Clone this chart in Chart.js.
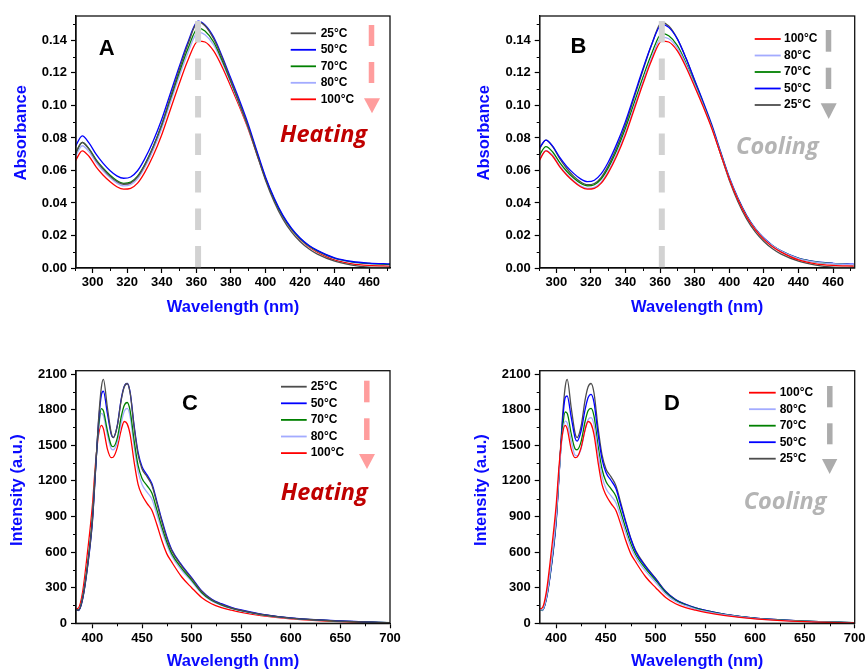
<!DOCTYPE html>
<html>
<head>
<meta charset="utf-8">
<script src="https://cdn.jsdelivr.net/npm/chart.js@4.4.0/dist/chart.umd.min.js"></script>
<style>
  html, body { margin: 0; padding: 0; background: #fff; overflow: hidden; }
  #wrap { position: relative; width: 866px; height: 670px; overflow: hidden; }
  canvas { position: absolute; }
</style>
</head>
<body>
<div id="wrap">
  <canvas id="chartA" width="433" height="335" style="left:0;top:0"></canvas>
  <canvas id="chartB" width="433" height="335" style="left:433px;top:0"></canvas>
  <canvas id="chartC" width="433" height="345" style="left:0;top:335px"></canvas>
  <canvas id="chartD" width="433" height="345" style="left:433px;top:335px"></canvas>
</div>
<script>
// UV-Vis absorbance, wavelength in nm
const uvWave = [290, 294, 298, 302, 306, 310, 314, 318, 322, 326, 330, 335, 340, 345, 350, 355, 361, 365, 370, 375, 380, 385, 390, 395, 400, 405, 410, 415, 420, 425, 430, 440, 450, 460, 472]

// heating (A)
const absHeat25 = [0.0705, 0.0772, 0.0730, 0.0662, 0.0610, 0.0565, 0.0532, 0.0515, 0.0522, 0.0560, 0.0630, 0.0745, 0.0885, 0.1050, 0.1215, 0.1372, 0.1512, 0.1490, 0.1410, 0.1290, 0.1150, 0.1012, 0.0865, 0.0700, 0.0540, 0.0408, 0.0302, 0.0222, 0.0163, 0.0118, 0.0085, 0.0042, 0.0018, 0.0006, 0.0003]
const absHeat50 = [0.0746, 0.0813, 0.0768, 0.0700, 0.0645, 0.0600, 0.0567, 0.0552, 0.0560, 0.0598, 0.0668, 0.0780, 0.0915, 0.1075, 0.1235, 0.1385, 0.1518, 0.1495, 0.1420, 0.1300, 0.1165, 0.1030, 0.0885, 0.0720, 0.0560, 0.0430, 0.0325, 0.0245, 0.0185, 0.0140, 0.0108, 0.0062, 0.0040, 0.0030, 0.0025]
const absHeat70 = [0.0700, 0.0773, 0.0733, 0.0667, 0.0615, 0.0572, 0.0538, 0.0521, 0.0528, 0.0565, 0.0633, 0.0745, 0.0880, 0.1040, 0.1198, 0.1345, 0.1476, 0.1458, 0.1390, 0.1275, 0.1145, 0.1010, 0.0870, 0.0710, 0.0552, 0.0425, 0.0320, 0.0241, 0.0181, 0.0137, 0.0105, 0.0060, 0.0038, 0.0028, 0.0022]
const absHeat80 = [0.0685, 0.0752, 0.0714, 0.0650, 0.0598, 0.0556, 0.0522, 0.0505, 0.0512, 0.0548, 0.0615, 0.0725, 0.0860, 0.1018, 0.1175, 0.1320, 0.1450, 0.1435, 0.1372, 0.1262, 0.1135, 0.1002, 0.0863, 0.0705, 0.0550, 0.0423, 0.0318, 0.0240, 0.0180, 0.0136, 0.0104, 0.0058, 0.0036, 0.0026, 0.0020]
const abs100 = [0.0658, 0.0721, 0.0686, 0.0622, 0.0572, 0.0532, 0.0500, 0.0485, 0.0490, 0.0522, 0.0585, 0.0690, 0.0820, 0.0975, 0.1130, 0.1275, 0.1396, 0.1390, 0.1335, 0.1235, 0.1115, 0.0990, 0.0855, 0.0700, 0.0548, 0.0420, 0.0315, 0.0236, 0.0176, 0.0131, 0.0098, 0.0050, 0.0026, 0.0016, 0.0012]

// cooling (B)
const absCool80 = [0.0665, 0.0722, 0.0692, 0.0628, 0.0577, 0.0537, 0.0505, 0.0490, 0.0496, 0.0530, 0.0595, 0.0703, 0.0835, 0.0990, 0.1145, 0.1290, 0.1420, 0.1410, 0.1352, 0.1250, 0.1127, 0.0998, 0.0860, 0.0704, 0.0550, 0.0423, 0.0318, 0.0240, 0.0180, 0.0136, 0.0104, 0.0058, 0.0036, 0.0026, 0.0020]
const absCool70 = [0.0690, 0.0746, 0.0712, 0.0648, 0.0595, 0.0553, 0.0521, 0.0505, 0.0512, 0.0548, 0.0615, 0.0726, 0.0860, 0.1015, 0.1170, 0.1315, 0.1442, 0.1428, 0.1368, 0.1260, 0.1135, 0.1003, 0.0865, 0.0707, 0.0551, 0.0424, 0.0319, 0.0240, 0.0180, 0.0136, 0.0104, 0.0059, 0.0037, 0.0027, 0.0021]
const absCool50 = [0.0735, 0.0787, 0.0748, 0.0680, 0.0625, 0.0582, 0.0548, 0.0531, 0.0540, 0.0580, 0.0650, 0.0765, 0.0902, 0.1062, 0.1222, 0.1372, 0.1499, 0.1480, 0.1408, 0.1290, 0.1155, 0.1020, 0.0878, 0.0715, 0.0558, 0.0430, 0.0324, 0.0244, 0.0184, 0.0139, 0.0106, 0.0061, 0.0039, 0.0029, 0.0024]
const absCool25 = [0.0728, 0.0787, 0.0745, 0.0672, 0.0612, 0.0565, 0.0530, 0.0512, 0.0520, 0.0558, 0.0628, 0.0743, 0.0883, 0.1048, 0.1213, 0.1370, 0.1510, 0.1489, 0.1410, 0.1290, 0.1150, 0.1012, 0.0865, 0.0700, 0.0540, 0.0408, 0.0302, 0.0222, 0.0163, 0.0118, 0.0085, 0.0042, 0.0018, 0.0006, 0.0003]

// grey dashed marker of the band maximum
const peakWave = [361, 361]
const peakAbs = [0.152, 0]

// fluorescence emission, wavelength in nm
const emWave = [383, 386, 390, 395, 400, 403, 406, 409, 411, 415, 419, 421, 425, 429, 432, 435, 438, 442, 446, 450, 455, 460, 465, 470, 475, 480, 490, 500, 510, 520, 530, 540, 550, 570, 600, 650, 700]

const int25 = [118, 110, 205, 480, 870, 1280, 1700, 1990, 2055, 1820, 1600, 1565, 1660, 1880, 1990, 2020, 1940, 1650, 1420, 1300, 1235, 1160, 1010, 855, 715, 610, 482, 378, 270, 200, 160, 130, 108, 75, 44, 19, 5]
const int100 = [120, 130, 260, 600, 1000, 1340, 1580, 1668, 1640, 1470, 1395, 1400, 1480, 1630, 1700, 1680, 1590, 1360, 1170, 1080, 1010, 950, 830, 695, 585, 515, 390, 300, 218, 165, 132, 110, 92, 65, 38, 14, 3]
// heating (C)
const intHeat50 = [118, 108, 200, 470, 860, 1270, 1680, 1925, 1955, 1770, 1590, 1565, 1665, 1890, 1995, 2020, 1945, 1665, 1440, 1320, 1250, 1175, 1025, 870, 730, 620, 490, 385, 275, 205, 165, 135, 112, 78, 46, 20, 5]
const intHeat70 = [118, 110, 210, 490, 890, 1290, 1640, 1808, 1790, 1625, 1498, 1488, 1560, 1740, 1835, 1860, 1790, 1540, 1330, 1220, 1160, 1095, 955, 810, 685, 585, 462, 364, 260, 194, 156, 127, 106, 74, 43, 18, 5]
const intHeat80 = [118, 112, 215, 500, 900, 1290, 1620, 1768, 1750, 1590, 1470, 1462, 1525, 1690, 1785, 1810, 1740, 1490, 1280, 1170, 1105, 1045, 915, 780, 660, 565, 447, 352, 252, 188, 151, 123, 103, 72, 42, 18, 5]
// cooling (D)
const intCool80 = [118, 112, 215, 505, 905, 1280, 1570, 1704, 1690, 1540, 1415, 1410, 1470, 1630, 1715, 1732, 1670, 1435, 1240, 1135, 1075, 1015, 890, 760, 640, 552, 437, 344, 247, 184, 148, 120, 100, 70, 40, 16, 4]
const intCool70 = [118, 110, 210, 490, 890, 1280, 1610, 1780, 1770, 1600, 1470, 1462, 1530, 1700, 1790, 1811, 1745, 1500, 1300, 1195, 1135, 1070, 935, 795, 670, 578, 458, 360, 258, 192, 154, 125, 104, 72, 42, 18, 5]
const intCool50 = [118, 108, 200, 470, 860, 1265, 1660, 1900, 1915, 1740, 1560, 1535, 1620, 1800, 1900, 1929, 1860, 1600, 1385, 1270, 1205, 1135, 990, 845, 710, 600, 475, 372, 266, 198, 159, 130, 108, 75, 44, 19, 5]

// axis ticks
const uvTicks = [300, 320, 340, 360, 380, 400, 420, 440, 460]
const uvMinor = [290, 310, 330, 350, 370, 390, 410, 430, 450, 470]
const absTicks = [0, 0.02, 0.04, 0.06, 0.08, 0.10, 0.12, 0.14]
const absMinor = [0.01, 0.03, 0.05, 0.07, 0.09, 0.11, 0.13, 0.15]
const emTicks = [400, 450, 500, 550, 600, 650, 700]
const emMinor = [425, 475, 525, 575, 625, 675]
const intTicks = [0, 300, 600, 900, 1200, 1500, 1800, 2100]
const intMinor = [150, 450, 750, 1050, 1350, 1650, 1950]

const c25 = '#4d4d4d'
const c50 = '#0000ff'
const c70 = '#008000'
const c80 = '#a3abff'
const c100 = '#ff0000'

Chart.defaults.font.family = "'Liberation Sans', Arial, sans-serif"
Chart.defaults.color = '#000'

const series = (xs, ys) => xs.map((x, i) => ({ x, y: ys[i] }))

const curve = (label, color, xs, ys) => ({
  label,
  data: series(xs, ys),
  borderColor: color,
  backgroundColor: color,
  borderWidth: 1.3,
  pointRadius: 0,
  fill: false,
  cubicInterpolationMode: 'monotone',
})

const peakLine = () => ({
  label: '',
  data: series(peakWave, peakAbs),
  borderColor: '#d2d2d2',
  borderWidth: 6,
  borderDash: [21.5, 16],
  pointRadius: 0,
  tension: 0,
})

// minor ticks, frame, panel letter, legend, arrow and note
const panelDecor = {
  id: 'panelDecor',
  afterDraw(chart, args, o) {
    const { ctx, chartArea: a } = chart
    const { x, y } = chart.scales
    ctx.save()
    ctx.strokeStyle = '#000'
    ctx.lineWidth = 1
    o.xMinor.forEach((v) => {
      const px = Math.round(x.getPixelForValue(v)) + 0.5
      ctx.beginPath()
      ctx.moveTo(px, a.bottom)
      ctx.lineTo(px, a.bottom + 3)
      ctx.stroke()
    })
    o.yMinor.forEach((v) => {
      const py = Math.round(y.getPixelForValue(v)) + 0.5
      ctx.beginPath()
      ctx.moveTo(a.left, py)
      ctx.lineTo(a.left - 3, py)
      ctx.stroke()
    })
    ctx.lineWidth = 1.3
    ctx.strokeStyle = '#111'
    ctx.strokeRect(a.left, a.top, a.right - a.left, a.bottom - a.top)

    // panel letter
    ctx.fillStyle = '#000'
    ctx.font = "bold 22px 'Liberation Sans', Arial, sans-serif"
    ctx.textAlign = 'center'
    ctx.textBaseline = 'alphabetic'
    ctx.fillText(o.letter, o.letterX, o.letterY)

    // legend
    const sets = chart.data.datasets.filter((d) => d.label)
    ctx.font = "bold 12px 'Liberation Sans', Arial, sans-serif"
    ctx.textAlign = 'left'
    ctx.textBaseline = 'middle'
    sets.forEach((d, i) => {
      const ry = o.legend.y + i * o.legend.dy
      ctx.strokeStyle = d.borderColor
      ctx.lineWidth = 1.8
      ctx.beginPath()
      ctx.moveTo(o.legend.x0, ry)
      ctx.lineTo(o.legend.x1, ry)
      ctx.stroke()
      ctx.fillStyle = '#000'
      ctx.fillText(d.label, o.legend.tx, ry)
    })

    // dashed arrow
    const ar = o.arrow
    ctx.fillStyle = ar.color
    ar.segs.forEach(([y0, y1]) => ctx.fillRect(ar.x - ar.w / 2, y0, ar.w, y1 - y0))
    ctx.beginPath()
    ctx.moveTo(ar.tri[0], ar.tri[2])
    ctx.lineTo(ar.tri[1], ar.tri[2])
    ctx.lineTo((ar.tri[0] + ar.tri[1]) / 2, ar.tri[3])
    ctx.closePath()
    ctx.fill()

    // heating / cooling note
    ctx.fillStyle = o.note.color
    ctx.font = "italic bold 23.5px 'Open Sans', sans-serif"
    ctx.textBaseline = 'alphabetic'
    ctx.fillText(o.note.text, o.note.x, o.note.y)
    ctx.restore()
  },
}

const axis = (c) => ({
  type: 'linear',
  min: c.min,
  max: c.max,
  afterBuildTicks: (s) => {
    s.ticks = c.ticks.map((value) => ({ value }))
  },
  afterFit: c.fit,
  border: { color: '#000', width: 1.3 },
  grid: { drawOnChartArea: false, drawTicks: true, tickLength: 5, tickColor: '#000', tickWidth: 1.2 },
  ticks: {
    font: { size: 13, weight: 'bold' },
    color: '#000',
    padding: c.pad,
    autoSkip: false,
    maxRotation: 0,
    callback: c.fmt,
  },
  title: {
    display: true,
    text: c.title,
    color: '#0a0aff',
    font: { size: 16.5, weight: 'bold' },
    padding: c.titlePad,
  },
})

const makePanel = (id, p) =>
  new Chart(document.getElementById(id), {
    type: 'line',
    data: { datasets: p.datasets },
    options: {
      responsive: false,
      animation: false,
      events: [],
      layout: { padding: { left: 0, top: p.top, right: p.right, bottom: 0 } },
      plugins: {
        legend: { display: false },
        tooltip: { enabled: false },
        panelDecor: p.decor,
      },
      scales: {
        x: axis({
          min: p.xMin, max: p.xMax, ticks: p.xTicks, pad: 2,
          fmt: (v) => String(v),
          title: 'Wavelength (nm)',
          titlePad: { top: 0, bottom: p.xTitleBottom },
          fit: (s) => { s.height = p.xH; s.paddingLeft = 0; s.paddingRight = 0 },
        }),
        y: axis({
          min: p.yMin, max: p.yMax, ticks: p.yTicks, pad: 4,
          fmt: p.yFmt,
          title: p.yTitle,
          titlePad: { top: p.yTitleTop, bottom: 0 },
          fit: (s) => { s.width = p.yW; s.paddingTop = 0; s.paddingBottom = 0 },
        }),
      },
    },
    plugins: [panelDecor],
  })

const absFmt = (v) => v.toFixed(2)
const intFmt = (v) => String(v)
const pink = '#ff9d9d'
const grey = '#acacac'

makePanel('chartA', {
  datasets: [
    peakLine(),
    curve('25°C', c25, uvWave, absHeat25),
    curve('50°C', c50, uvWave, absHeat50),
    curve('70°C', c70, uvWave, absHeat70),
    curve('80°C', c80, uvWave, absHeat80),
    curve('100°C', c100, uvWave, abs100),
  ],
  top: 16, right: 43, yW: 76, xH: 67, xTitleBottom: 18, yTitleTop: 11.3,
  xMin: 290.4, xMax: 472, xTicks: uvTicks,
  yMin: 0, yMax: 0.155, yTicks: absTicks, yFmt: absFmt, yTitle: '    Absorbance',
  decor: {
    xMinor: uvMinor, yMinor: absMinor,
    letter: 'A', letterX: 106.7, letterY: 55,
    legend: { x0: 290.7, x1: 316, tx: 320.7, y: 33.3, dy: 16.5 },
    arrow: { color: pink, x: 371.5, w: 5.5, segs: [[25, 46], [62, 83]], tri: [364, 380, 98.3, 113.3] },
    note: { text: 'Heating', color: '#c00000', x: 280, y: 141.7 },
  },
})

makePanel('chartB', {
  datasets: [
    peakLine(),
    curve('100°C', c100, uvWave, abs100),
    curve('80°C', c80, uvWave, absCool80),
    curve('70°C', c70, uvWave, absCool70),
    curve('50°C', c50, uvWave, absCool50),
    curve('25°C', c25, uvWave, absCool25),
  ],
  top: 16, right: 11.3, yW: 106.7, xH: 67, xTitleBottom: 18, yTitleTop: 41.8,
  xMin: 290.4, xMax: 472.5, xTicks: uvTicks,
  yMin: 0, yMax: 0.155, yTicks: absTicks, yFmt: absFmt, yTitle: '    Absorbance',
  decor: {
    xMinor: uvMinor, yMinor: absMinor,
    letter: 'B', letterX: 145.5, letterY: 53.3,
    legend: { x0: 321.7, x1: 347.7, tx: 351, y: 39, dy: 16.5 },
    arrow: { color: grey, x: 395.5, w: 5.5, segs: [[30, 51.7], [67.7, 89]], tri: [387.7, 403.7, 103.3, 119] },
    note: { text: 'Cooling', color: '#b4b4b4', x: 303, y: 154 },
  },
})

makePanel('chartC', {
  datasets: [
    curve('25°C', c25, emWave, int25),
    curve('50°C', c50, emWave, intHeat50),
    curve('70°C', c70, emWave, intHeat70),
    curve('80°C', c80, emWave, intHeat80),
    curve('100°C', c100, emWave, int100),
  ],
  top: 35.7, right: 43, yW: 76, xH: 56.7, xTitleBottom: 9, yTitleTop: 7.3,
  xMin: 383.4, xMax: 700, xTicks: emTicks,
  yMin: 0, yMax: 2128, yTicks: intTicks, yFmt: intFmt, yTitle: '   Intensity (a.u.)',
  decor: {
    xMinor: emMinor, yMinor: intMinor,
    letter: 'C', letterX: 190, letterY: 75,
    legend: { x0: 281, x1: 306.7, tx: 310.7, y: 51.7, dy: 16.6 },
    arrow: { color: pink, x: 366.8, w: 5.5, segs: [[45.7, 67.3], [83.3, 105]], tri: [359, 375, 119, 134] },
    note: { text: 'Heating', color: '#c00000', x: 280.7, y: 165 },
  },
})

makePanel('chartD', {
  datasets: [
    curve('100°C', c100, emWave, int100),
    curve('80°C', c80, emWave, intCool80),
    curve('70°C', c70, emWave, intCool70),
    curve('50°C', c50, emWave, intCool50),
    curve('25°C', c25, emWave, int25),
  ],
  top: 35.7, right: 11.3, yW: 106.7, xH: 56.7, xTitleBottom: 9, yTitleTop: 38.1,
  xMin: 383.4, xMax: 700, xTicks: emTicks,
  yMin: 0, yMax: 2128, yTicks: intTicks, yFmt: intFmt, yTitle: '   Intensity (a.u.)',
  decor: {
    xMinor: emMinor, yMinor: intMinor,
    letter: 'D', letterX: 239, letterY: 75,
    legend: { x0: 316, x1: 342.7, tx: 346.7, y: 57.7, dy: 16.5 },
    arrow: { color: grey, x: 396.8, w: 5.5, segs: [[51, 72.3], [88.3, 109.3]], tri: [389, 404.3, 124, 139] },
    note: { text: 'Cooling', color: '#b4b4b4', x: 310.7, y: 174.3 },
  },
})
</script>
</body>
</html>
